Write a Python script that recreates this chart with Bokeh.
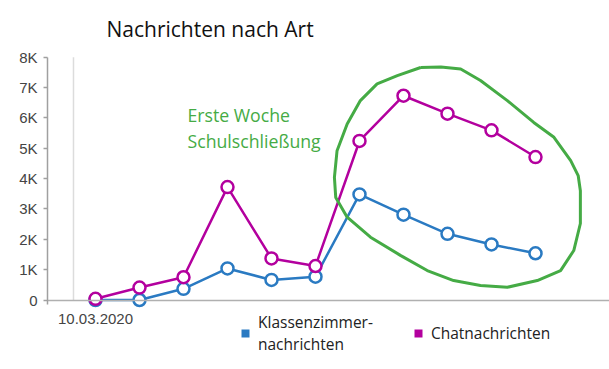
from bokeh.plotting import figure
from bokeh.models import Range1d, FixedTicker, Label, Legend, LegendItem, ColumnDataSource, LinearAxis
from bokeh.embed import file_html
from bokeh.resources import INLINE

# ---- data ----
days = list(range(11))
x_tick_labels = {0: "10.03.2020"}
klassenzimmer = [0, 0, 370, 1040, 660, 770, 3480, 2810, 2180, 1830, 1540]
chat = [40, 410, 750, 3720, 1370, 1120, 5240, 6730, 6140, 5590, 4710]
y_ticks = [0, 1000, 2000, 3000, 4000, 5000, 6000, 7000, 8000]
y_tick_labels = ["0", "1K", "2K", "3K", "4K", "5K", "6K", "7K", "8K"]

# hand-drawn highlight loop (annotation outline, data units)
loop_x = [7.39, 7.85, 8.30, 8.75, 9.36, 9.96, 10.42, 10.80, 10.97, 11.02, 11.02, 10.87, 10.57, 10.04,
          9.36, 8.75, 8.14, 7.54, 6.93, 6.25, 5.72, 5.46, 5.43, 5.49, 5.72, 6.02, 6.40, 6.86, 7.39]
loop_y = [7660, 7680, 7610, 7230, 6570, 5850, 5360, 4590, 4100, 3600, 2520, 1630, 970, 640,
          420, 480, 640, 970, 1470, 2070, 2730, 3380, 4040, 4920, 5800, 6570, 7120, 7390, 7660]

BLUE = "#2a7ac2"
MAGENTA = "#b3009e"
GREEN = "#45ab45"

p = figure(width=609, height=367, output_backend="svg", toolbar_location=None,
           x_range=Range1d(-2.159, 11.682), y_range=Range1d(-2224, 9868),
           min_border=0, x_axis_location=None, y_axis_location=None)
p.outline_line_color = None
p.background_fill_color = "white"
p.border_fill_color = "white"
p.xgrid.visible = False
p.ygrid.visible = False

yax = LinearAxis(fixed_location=-1.091, bounds=(-150, 8000))
yax.ticker = FixedTicker(ticks=y_ticks)
yax.major_label_overrides = {t: l for t, l in zip(y_ticks, y_tick_labels)}
yax.minor_tick_line_color = None
yax.major_tick_in = 0
yax.major_tick_out = 4
yax.axis_line_color = "#a0a0a0"
yax.axis_line_width = 1.5
yax.major_tick_line_color = "#a0a0a0"
yax.major_tick_line_width = 1.5
yax.major_label_standoff = 6
yax.major_label_text_font = "Liberation Sans"
yax.major_label_text_font_size = "15px"
yax.major_label_text_color = "#444444"
p.add_layout(yax, "left")

xax = LinearAxis(fixed_location=0, bounds=(-1.091, 11.68))
xax.ticker = FixedTicker(ticks=[0])
xax.major_label_overrides = x_tick_labels
xax.minor_tick_line_color = None
xax.major_tick_line_color = None
xax.axis_line_color = "#b0b0b0"
xax.axis_line_width = 1.5
xax.major_label_standoff = 8
xax.major_label_text_font = "Liberation Sans"
xax.major_label_text_font_size = "15px"
xax.major_label_text_color = "#444444"
p.add_layout(xax, "below")

# vertical gridline at the first date boundary
p.segment(x0=[-0.5], y0=[0], x1=[-0.5], y1=[8000], line_color="#dcdcdc", line_width=1.5)

# series
src = ColumnDataSource(dict(x=days, k=klassenzimmer, c=chat))
p.line("x", "k", source=src, line_color=BLUE, line_width=2.5)
p.scatter("x", "k", source=src, size=12, fill_color="white", line_color=BLUE, line_width=2.5)
p.line("x", "c", source=src, line_color=MAGENTA, line_width=2.5)
p.scatter("x", "c", source=src, size=12, fill_color="white", line_color=MAGENTA, line_width=2.5)

# highlight loop
p.line(loop_x, loop_y, line_color=GREEN, line_width=3, line_join="round")

# title
p.add_layout(Label(x=0.25, y=8930, text="Nachrichten nach Art", text_font="Open Sans",
                   text_font_size="21px", text_color="#111111", text_baseline="alphabetic"))
# annotation
p.add_layout(Label(x=2.09, y=6080, text="Erste Woche", text_font="Open Sans",
                   text_font_size="17.7px", text_color=GREEN, text_baseline="alphabetic"))
p.add_layout(Label(x=2.09, y=5250, text="Schulschließung", text_font="Open Sans",
                   text_font_size="17.7px", text_color=GREEN, text_baseline="alphabetic"))

# legend (swatch renderers hold one box far outside the visible range)
swatch = ColumnDataSource(dict(l=[-100], r=[-99], b=[-100000], t=[-99000]))
r1 = p.quad(left="l", right="r", bottom="b", top="t", source=swatch, fill_color=BLUE, line_color=None)
r2 = p.quad(left="l", right="r", bottom="b", top="t", source=swatch, fill_color=MAGENTA, line_color=None)
legend = Legend(items=[LegendItem(label="Klassenzimmer-\nnachrichten", renderers=[r1]),
                       LegendItem(label="Chatnachrichten", renderers=[r2])],
                orientation="horizontal", location=(240, 12),
                glyph_width=10, glyph_height=10, label_standoff=8, spacing=40, padding=0, margin=0,
                border_line_color=None, background_fill_alpha=0,
                label_text_font="Open Sans", label_text_font_size="15.5px",
                label_text_color="#222222", label_text_line_height=1.6)
p.add_layout(legend, "center")

open("out.html", "w").write(file_html(p, INLINE))
